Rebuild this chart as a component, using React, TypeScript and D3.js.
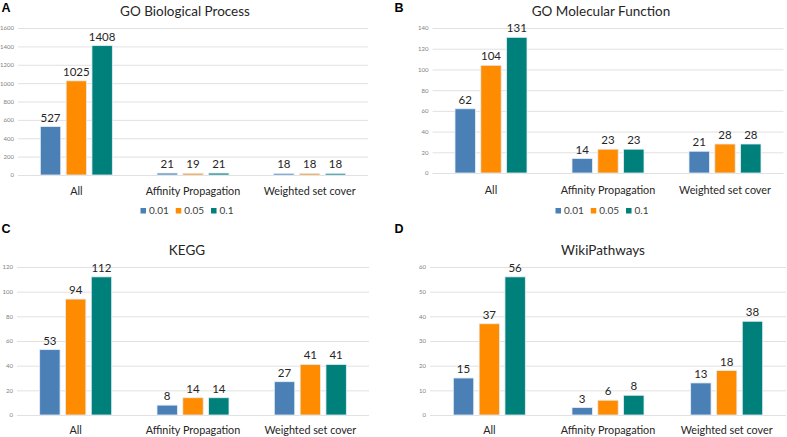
import { useEffect, useRef } from 'react'
import * as d3 from 'd3'

const W = 787, H = 437

const CATEGORIES = ['All', 'Affinity Propagation', 'Weighted set cover']
const SERIES_KEYS = ['0.01', '0.05', '0.1']
const COLORS = ['#4a80b6', '#ff8c00', '#00807b']

const BIO_VALUES = [
  [527, 1025, 1408],
  [21, 19, 21],
  [18, 18, 18],
]
const MOL_VALUES = [
  [62, 104, 131],
  [14, 23, 23],
  [21, 28, 28],
]
const KEGG_VALUES = [
  [53, 94, 112],
  [8, 14, 14],
  [27, 41, 41],
]
const WIKI_VALUES = [
  [15, 37, 56],
  [3, 6, 8],
  [13, 18, 38],
]

const BIO_TICKS = [0, 200, 400, 600, 800, 1000, 1200, 1400, 1600]
const MOL_TICKS = [0, 20, 40, 60, 80, 100, 120, 140]
const KEGG_TICKS = [0, 20, 40, 60, 80, 100, 120]
const WIKI_TICKS = [0, 10, 20, 30, 40, 50, 60]

const FONT = 'Lato, "Open Sans", sans-serif'

interface Panel {
  letter: string
  title: string
  values: number[][]
  ticks: number[]
  ox: number; oy: number
  x0: number; x1: number
  y0: number; y1: number
  titleX: number; titleY: number
  catY: number
  legendY?: number
  legendX?: number
}

const PANELS: Panel[] = [
  { letter: 'A', title: 'GO Biological Process', values: BIO_VALUES, ticks: BIO_TICKS,
    ox: 0, oy: 0, x0: 18, x1: 368, y0: 175, y1: 28, titleX: 185, titleY: 16, catY: 195, legendY: 211, legendX: 187 },
  { letter: 'B', title: 'GO Molecular Function', values: MOL_VALUES, ticks: MOL_TICKS,
    ox: 393, oy: 0, x0: 39.5, x1: 390.5, y0: 173, y1: 28, titleX: 208, titleY: 16, catY: 194, legendY: 211, legendX: 209 },
  { letter: 'C', title: 'KEGG', values: KEGG_VALUES, ticks: KEGG_TICKS,
    ox: 0, oy: 218, x0: 17, x1: 369, y0: 197, y1: 49, titleX: 187, titleY: 37, catY: 216 },
  { letter: 'D', title: 'WikiPathways', values: WIKI_VALUES, ticks: WIKI_TICKS,
    ox: 393, oy: 218, x0: 37, x1: 393, y0: 197, y1: 49, titleX: 210, titleY: 37, catY: 216 },
]

export default function App() {
  const svgRef = useRef<SVGSVGElement>(null)

  useEffect(() => {
    const svg = d3.select(svgRef.current!)
    svg.selectAll('*').remove()
    svg.append('rect').attr('width', W).attr('height', H).attr('fill', '#fff')

    PANELS.forEach(p => {
      const g = svg.append('g').attr('transform', `translate(${p.ox},${p.oy})`)
      const yMax = p.ticks[p.ticks.length - 1]
      const y = d3.scaleLinear().domain([0, yMax]).range([p.y0, p.y1])

      const step = (p.x1 - p.x0) / CATEGORIES.length
      const groupW = 72
      const pad = (step - groupW) / step
      const xCat = d3.scaleBand<string>().domain(CATEGORIES).range([p.x0, p.x1])
        .paddingInner(pad).paddingOuter(pad / 2)
      const xSer = d3.scaleBand<string>().domain(SERIES_KEYS).range([0, xCat.bandwidth()])
        .paddingInner(0.21).paddingOuter(0)

      // gridlines + y labels
      g.append('g')
        .attr('transform', `translate(${p.x0},0)`)
        .call(d3.axisLeft(y).tickValues(p.ticks).tickFormat(d3.format('d'))
          .tickSize(-(p.x1 - p.x0)).tickPadding(4))
        .call(ax => {
          ax.select('.domain').remove()
          ax.selectAll('.tick line').attr('stroke', '#d9d9d9').attr('stroke-width', 0.8)
          ax.selectAll('.tick text')
            .attr('font-size', 6).attr('font-family', FONT).attr('fill', '#808080')
        })

      // bars
      p.values.forEach((row, ci) => {
        const cat = CATEGORIES[ci]
        row.forEach((v, si) => {
          const bx = xCat(cat)! + xSer(SERIES_KEYS[si])!
          g.append('rect')
            .attr('x', bx).attr('y', y(v))
            .attr('width', xSer.bandwidth()).attr('height', y(0) - y(v))
            .attr('fill', COLORS[si]).attr('stroke', '#e4eef7').attr('stroke-width', 0.8)
          g.append('text')
            .attr('x', bx + xSer.bandwidth() / 2).attr('y', y(v) - 5)
            .attr('text-anchor', 'middle').attr('font-size', 11.5)
            .attr('font-family', FONT).attr('fill', '#262626')
            .text(v)
        })
        g.append('text')
          .attr('x', xCat(cat)! + xCat.bandwidth() / 2).attr('y', p.catY)
          .attr('text-anchor', 'middle').attr('font-size', 10.8)
          .attr('font-family', FONT).attr('fill', '#262626')
          .text(cat)
      })

      // title + panel letter
      g.append('text')
        .attr('x', p.titleX).attr('y', p.titleY)
        .attr('text-anchor', 'middle').attr('font-size', 13.5)
        .attr('font-family', FONT).attr('fill', '#262626')
        .text(p.title)
      g.append('text')
        .attr('x', 1.5).attr('y', p.letter === 'A' || p.letter === 'B' ? 12 : 15)
        .attr('font-size', 12.5).attr('font-weight', 'bold')
        .attr('font-family', 'Liberation Sans, Arial, sans-serif').attr('fill', '#000')
        .text(p.letter)

      // legend
      if (p.legendY !== undefined) {
        const lg = g.append('g')
        let cx = 0
        SERIES_KEYS.forEach((k, i) => {
          lg.append('rect').attr('x', cx).attr('y', p.legendY! - 3)
            .attr('width', 5.5).attr('height', 5.5).attr('fill', COLORS[i])
          const t = lg.append('text').attr('x', cx + 8.5).attr('y', p.legendY! + 3)
            .attr('font-size', 10).attr('font-family', FONT).attr('fill', '#404040')
            .text(k)
          cx += 8.5 + (t.node() as SVGTextElement).getComputedTextLength() + 7
        })
        const total = cx - 7
        lg.attr('transform', `translate(${p.legendX! - total / 2},0)`)
      }
    })
  }, [])

  return (
    <div style={{ position: 'absolute', left: 0, top: 0 }}>
      <svg ref={svgRef} width={W} height={H} style={{ display: 'block' }} />
    </div>
  )
}
